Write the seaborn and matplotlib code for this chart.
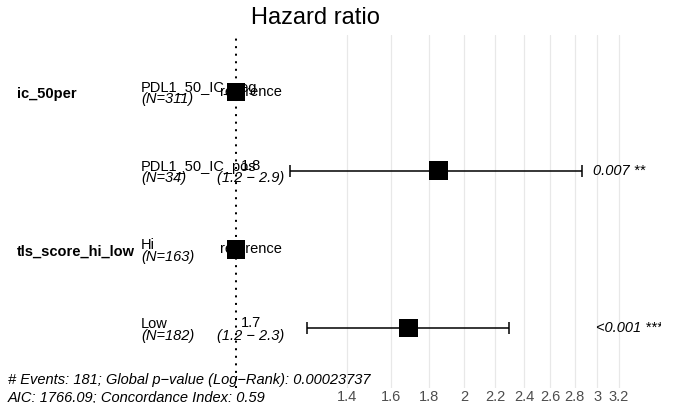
import numpy as np
import pandas as pd
import seaborn as sns
import matplotlib.pyplot as plt

# Values
variables = ["ic_50per", "", "tls_score_hi_low", ""]
levels = ["PDL1_50_IC_neg", "PDL1_50_IC_pos", "Hi", "Low"]
n_obs = [311, 34, 163, 182]
hr = [1.0, 1.85, 1.0, 1.69]
ci_low = [np.nan, 1.18, np.nan, 1.24]
ci_high = [np.nan, 2.86, np.nan, 2.29]
hr_label = ["", "1.8", "", "1.7"]
ci_label = ["", "(1.2 \u2212 2.9)", "", "(1.2 \u2212 2.3)"]
p_label = ["", "0.007 **", "", "<0.001 ***"]
breaks = [1.4, 1.6, 1.8, 2, 2.2, 2.4, 2.6, 2.8, 3, 3.2]
break_labels = ["1.4", "1.6", "1.8", "2", "2.2", "2.4", "2.6", "2.8", "3", "3.2"]
footnote = ["# Events: 181; Global p\u2212value (Log\u2212Rank): 0.00023737",
            "AIC: 1766.09; Concordance Index: 0.59"]

df = pd.DataFrame({"variable": variables, "level": levels, "n": n_obs,
                   "hr": hr, "lo": ci_low, "hi": ci_high})
df["row"] = np.arange(len(df))

sns.set_theme(style="white")
plt.rcParams["font.family"] = ["Liberation Sans", "DejaVu Sans"]
plt.rcParams["text.color"] = "black"
fs = 10.5

fig = plt.figure(figsize=(6.79, 4.03), dpi=100)
ax = fig.add_axes([0, 1 - 388 / 403, 661 / 679, (388 - 35) / 403])
ax.set_xscale("log")
ax.set_xlim(0.488, 3.64)
ax.set_ylim(3.76, -0.72)

# grid at the HR breaks only
ax.set_xticks(breaks)
ax.set_xticklabels(break_labels, fontsize=fs, color="#4d4d4d")
ax.minorticks_off()
ax.tick_params(axis="x", length=0, pad=1.5)
ax.set_yticks([])
ax.grid(axis="x", color="#e8e8e8", lw=0.9)
ax.grid(axis="y", visible=False)
for s in ax.spines.values():
    s.set_visible(False)

# reference line at HR = 1
ax.axvline(1, color="black", lw=1.45, ls=(0, (1, 2.75)), zorder=2)

# confidence intervals
ci = df.dropna()
ax.errorbar(ci["hr"], ci["row"], xerr=[ci["hr"] - ci["lo"], ci["hi"] - ci["hr"]],
            fmt="none", ecolor="black", elinewidth=1.1, capsize=4.3,
            capthick=1.1, zorder=3)

sns.scatterplot(data=df, x="hr", y="row", marker="s", s=175, color="black",
                edgecolor="none", zorder=4, ax=ax, legend=False)
ax.set_xlabel("")
ax.set_ylabel("")

tr = ax.get_yaxis_transform()
for i, r in df.iterrows():
    if r["variable"]:
        ax.text(0.026, r["row"] + 0.03, r["variable"], transform=tr, fontsize=fs,
                fontweight="bold", ha="left", va="center")
    ax.annotate(r["level"], (0.2135, r["row"]), xycoords=tr, xytext=(0, 0),
                textcoords="offset points", fontsize=fs, ha="left", va="baseline")
    ax.annotate(f"(N={r['n']})", (0.2135, r["row"]), xycoords=tr, xytext=(0, -0.5),
                textcoords="offset points", fontsize=fs, style="italic",
                ha="left", va="top")
    if np.isnan(r["lo"]):
        ax.text(0.379, r["row"], "reference", transform=tr, fontsize=fs,
                ha="center", va="center")
    else:
        ax.annotate(hr_label[i], (0.379, r["row"]), xycoords=tr, xytext=(0, 0.5),
                    textcoords="offset points", fontsize=fs, ha="center",
                    va="baseline")
        ax.annotate(ci_label[i], (0.379, r["row"]), xycoords=tr, xytext=(0, -0.5),
                    textcoords="offset points", fontsize=fs, style="italic",
                    ha="center", va="top")
        ax.annotate(p_label[i], (np.nanmax(ci_high), r["row"]),
                    xytext=(1.05 * len(p_label[i]), 0),
                    textcoords="offset points", fontsize=fs, style="italic",
                    ha="left", va="center", annotation_clip=False, clip_on=True)

fig.text(315 / 679, 1 - 18 / 403, "Hazard ratio", fontsize=17, ha="center",
         va="center")
fig.text(8 / 679, 1 - 380 / 403, footnote[0], fontsize=fs, style="italic",
         ha="left", va="center")
fig.text(8 / 679, 1 - 398 / 403, footnote[1], fontsize=fs, style="italic",
         ha="left", va="center")

fig.savefig("out.png", dpi=100)
